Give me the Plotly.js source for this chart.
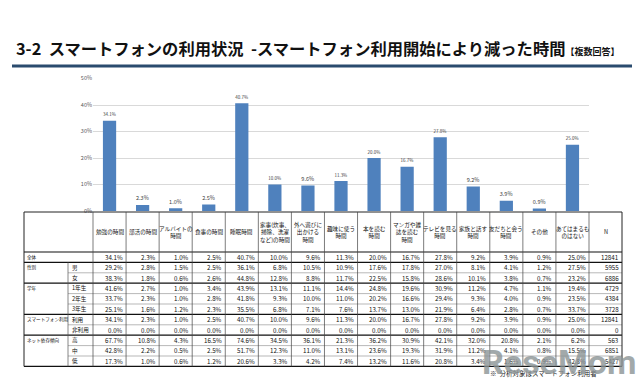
<!DOCTYPE html>
<html>
<head>
<meta charset="utf-8">
<script src="https://cdn.plot.ly/plotly-3.0.1.min.js"></script>
<style>html,body{margin:0;padding:0;background:#fff;}#chart{width:644px;height:390px;}</style>
</head>
<body>
<div id="chart"></div>
<script>
// ---- data ----
const categories = ["勉強の時間","部活の時間","アルバイトの<br>時間","食事の時間","睡眠時間","家事(炊事、<br>掃除、洗濯<br>など)の時間","外へ遊びに<br>出かける<br>時間","趣味に使う<br>時間","本を読む<br>時間","マンガや雑<br>誌を読む<br>時間","テレビを見る<br>時間","家族と話す<br>時間","友だちと会う<br>時間","その他","あてはまるも<br>のはない"];
const overall  = [34.1, 2.3, 1.0, 2.5, 40.7, 10.0, 9.6, 11.3, 20.0, 16.7, 27.8, 9.2, 3.9, 0.9, 25.0];
const rowGroups = ["全体","性別","","学年","","","スマートフォン利用","","ネット依存傾向","",""];
const rowLabels = ["","男","女","1年生","2年生","3年生","利用","非利用","高","中","低"];
const male     = [29.2, 2.8, 1.5, 2.5, 36.1, 6.8, 10.5, 10.9, 17.6, 17.8, 27.0, 8.1, 4.1, 1.2, 27.5];
const female   = [38.3, 1.8, 0.6, 2.6, 44.8, 12.8, 8.8, 11.7, 22.5, 15.8, 28.6, 10.1, 3.8, 0.7, 23.2];
const grade1   = [41.6, 2.7, 1.0, 3.4, 43.9, 13.1, 11.1, 14.4, 24.8, 19.6, 30.9, 11.2, 4.7, 1.1, 19.4];
const grade2   = [33.7, 2.3, 1.0, 2.8, 41.8, 9.3, 10.0, 11.0, 20.2, 16.6, 29.4, 9.3, 4.0, 0.9, 23.5];
const grade3   = [25.1, 1.6, 1.2, 2.3, 35.5, 6.8, 7.1, 7.6, 13.7, 13.0, 21.9, 6.4, 2.8, 0.7, 33.7];
const smUse    = [34.1, 2.3, 1.0, 2.5, 40.7, 10.0, 9.6, 11.3, 20.0, 16.7, 27.8, 9.2, 3.9, 0.9, 25.0];
const smNonUse = [0.0, 0.0, 0.0, 0.0, 0.0, 0.0, 0.0, 0.0, 0.0, 0.0, 0.0, 0.0, 0.0, 0.0, 0.0];
const depHigh  = [67.7, 10.8, 4.3, 16.5, 74.6, 34.5, 36.1, 21.3, 36.2, 30.9, 42.1, 32.0, 20.8, 2.1, 6.2];
const depMid   = [42.8, 2.2, 0.5, 2.5, 51.7, 12.3, 11.0, 13.1, 23.6, 19.3, 31.9, 11.2, 4.1, 0.8, 15.5];
const depLow   = [17.3, 1.0, 0.6, 1.2, 20.6, 3.3, 4.2, 7.4, 13.2, 11.6, 20.8, 3.4, 1.6, 0.9, 42.8];
const nCounts  = [12841, 5955, 6886, 4729, 4384, 3728, 12841, 0, 563, 6851, 5427];

// ---- layout geometry ----
const W = 644, H = 390;
const px = v => v / W, py = v => 1 - v / H;
const FONT = '"Noto Sans CJK JP", "Noto Sans", sans-serif';
const rows = [overall, male, female, grade1, grade2, grade3, smUse, smNonUse, depHigh, depMid, depLow];

const tLeft = 24, labSplit = 68, dataLeft = 93, dataRight = 589, tRight = 622;
const tTop = 212, headBottom = 252, rowH = 10.4;
const colW = (dataRight - dataLeft) / categories.length;
const colX0 = c => dataLeft + c * colW;
const rowY0 = r => headBottom + r * rowH;
const tBottom = rowY0(rows.length);

const shapes = [
  {type: 'line', xref: 'paper', yref: 'paper', x0: px(12), x1: px(632), y0: py(66), y1: py(66), line: {color: '#2a4b6e', width: 3}}
];
const line = (x0, y0, x1, y1, w, col) => shapes.push({type: 'line', xref: 'paper', yref: 'paper', layer: 'above',
  x0: px(x0), x1: px(x1), y0: py(y0), y1: py(y1), line: {color: col, width: w}});

// horizontal lines
line(tLeft, tTop, tRight, tTop, 1, '#222');
line(tLeft, headBottom, tRight, headBottom, 1.2, '#111');
for (let r = 1; r <= rows.length; r++) {
  const y = rowY0(r);
  const groupStart = r === rows.length || rowGroups[r] !== '';
  if (groupStart) line(tLeft, y, tRight, y, 1.2, '#111');
  else line(labSplit, y, tRight, y, 0.6, '#888');
}
// vertical lines
line(tLeft, tTop, tLeft, tBottom, 1, '#222');
line(labSplit, rowY0(1), labSplit, tBottom, 0.7, '#555');
for (let c = 0; c <= categories.length; c++) line(colX0(c), tTop, colX0(c), tBottom, 0.7, '#444');
line(tRight, tTop, tRight, tBottom, 1, '#222');

const annotations = [
  {xref: 'paper', yref: 'paper', x: px(14), y: py(48), xanchor: 'left', yanchor: 'middle', showarrow: false,
   text: '<b>3-2  スマートフォンの利用状況  -スマートフォン利用開始により減った時間</b><b><span style="font-size:9px">【複数回答】</span></b>',
   font: {size: 16.3, color: '#111', family: FONT}},
  {xref: 'paper', yref: 'paper', x: px(599), y: py(373), xanchor: 'right', yanchor: 'middle', showarrow: false,
   text: '※  分析対象はスマートフォン利用者', font: {size: 6.5, color: '#222', family: FONT}}
];
const txt = (x, y, t, anchor, size) => annotations.push({xref: 'paper', yref: 'paper', x: px(x), y: py(y),
  xanchor: anchor, yanchor: 'middle', showarrow: false, text: t, align: 'center',
  font: {size: size, color: '#111', family: FONT}});

// header
categories.forEach((h, c) => txt(colX0(c) + colW / 2, (tTop + headBottom) / 2, h, 'center', 5.6));
txt((dataRight + tRight) / 2, (tTop + headBottom) / 2, 'N', 'center', 5.6);
// body
rows.forEach((r, ri) => {
  const yc = rowY0(ri) + rowH / 2;
  if (rowGroups[ri]) txt(tLeft + 1, yc, rowGroups[ri], 'left', 4.6);
  if (rowLabels[ri]) txt(labSplit + 2, yc, rowLabels[ri], 'left', 5.6);
  r.forEach((v, c) => txt(colX0(c + 1) - 1.5, yc, v.toFixed(1) + '%', 'right', 6.2));
  txt(tRight - 1.5, yc, String(nCounts[ri]), 'right', 6.2);
});
// watermark
annotations.push({xref: 'paper', yref: 'paper', x: px(638), y: py(362), xanchor: 'right', yanchor: 'middle', showarrow: false,
  text: '<b>ReseMom</b>', opacity: 0.8, font: {size: 34, color: '#8c9496', family: 'Roboto, sans-serif'}});

const bar = {
  type: 'bar',
  x: categories,
  y: overall,
  width: 0.4,
  marker: {color: '#4f81bd'},
  texttemplate: '%{y:.1f}%',
  textposition: 'outside',
  cliponaxis: false,
  textfont: {size: 7, color: '#404040', family: FONT},
  hoverinfo: 'skip'
};

const layout = {
  width: W, height: H,
  margin: {l: 0, r: 0, t: 0, b: 0},
  paper_bgcolor: 'white', plot_bgcolor: 'white',
  showlegend: false,
  font: {family: FONT},
  xaxis: {domain: [px(dataLeft), px(dataRight)], type: 'category', range: [-0.5, 14.5], showticklabels: false, showgrid: false, zeroline: false, fixedrange: true},
  yaxis: {domain: [py(211), py(78.5)], range: [0, 50], dtick: 10, ticksuffix: '%', showgrid: true, gridcolor: '#d9d9d9', gridwidth: 1, zeroline: false, tickfont: {size: 5.5, color: '#595959'}, ticks: '', fixedrange: true},
  shapes: shapes,
  annotations: annotations
};

Plotly.newPlot('chart', [bar], layout, {displayModeBar: false, staticPlot: true});
</script>
</body>
</html>
